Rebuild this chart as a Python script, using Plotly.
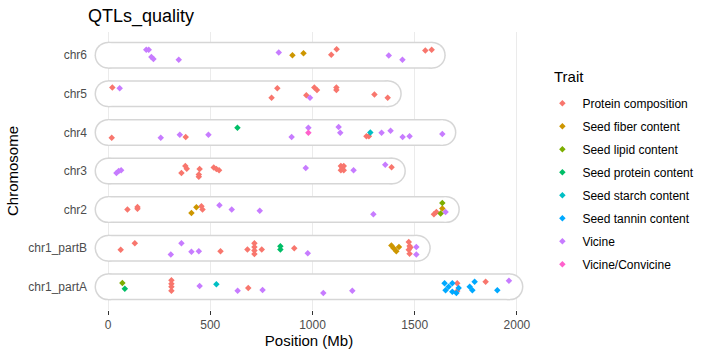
import plotly.graph_objects as go

# ---------------- data ----------------
chromosomes = ["chr1_partA", "chr1_partB", "chr2", "chr3", "chr4", "chr5", "chr6"]
chrom_lengths = [1966, 1513, 1655, 1391, 1638, 1371, 1586]

traits = ["Protein composition", "Seed fiber content", "Seed lipid content",
          "Seed protein content", "Seed starch content", "Seed tannin content",
          "Vicine", "Vicine/Convicine"]
trait_codes = ["P", "F", "L", "SP", "SS", "ST", "V", "VC"]
trait_colors = ["#F8766D", "#CD9600", "#7CAE00", "#00BE67",
                "#00BFC4", "#00A9FF", "#C77CFF", "#FF61CC"]

x_ticks = [0, 500, 1000, 1500, 2000]

# QTL points: chromosome, position (Mb), vertical jitter (rows), trait code
pt_chrom = (["chr6"] * 14 + ["chr5"] * 12 + ["chr4"] * 19 + ["chr3"] * 21 +
            ["chr2"] * 17 + ["chr1_partB"] * 28 + ["chr1_partA"] * 28)
pt_pos = [
    # chr6
    187, 199, 212, 222, 346, 835, 902, 956, 1092, 1118, 1373, 1440, 1552, 1583,
    # chr5
    21, 57, 828, 800, 1009, 1022, 970, 988, 1117, 1117, 1303, 1368,
    # chr4
    18, 258, 351, 380, 491, 633, 898, 980, 980, 1128, 1136, 1264, 1276, 1283,
    1338, 1382, 1441, 1475, 1635,
    # chr3
    41, 52, 64, 359, 378, 385, 448, 444, 444, 517, 530, 543, 967, 1139, 1153,
    1139, 1153, 1146, 1201, 1356, 1387,
    # chr2
    95, 144, 144, 408, 432, 457, 462, 545, 605, 742, 1298, 1594, 1606, 1627,
    1635, 1635, 1651,
    # chr1_partB
    62, 131, 307, 359, 408, 444, 550, 682, 716, 716, 716, 716, 752, 843, 843,
    911, 977, 1386, 1397, 1410, 1423, 1471, 1475, 1471, 1475, 1479, 1508, 1508,
    # chr1_partA
    70, 82, 310, 310, 310, 310, 448, 530, 634, 686, 756, 1053, 1195, 1646,
    1651, 1666, 1684, 1684, 1704, 1715, 1708, 1708, 1769, 1782, 1793, 1847,
    1904, 1961,
]
pt_jitter = [
    # chr6
    0.14, 0.14, -0.05, -0.10, -0.12, 0.07, 0.00, 0.05, 0.01, 0.15, -0.01, -0.12, 0.12, 0.14,
    # chr5
    0.16, 0.14, 0.14, -0.10, 0.16, 0.10, -0.04, -0.10, 0.16, 0.10, -0.02, -0.10,
    # chr4
    -0.14, -0.14, -0.06, -0.12, -0.06, 0.12, -0.12, 0.12, -0.01, 0.14, -0.01,
    -0.10, -0.10, 0.00, -0.01, 0.04, -0.12, -0.10, -0.04,
    # chr3
    -0.05, 0.00, 0.02, -0.05, 0.13, 0.06, 0.05, -0.09, -0.15, 0.09, 0.05, 0.02,
    0.08, 0.13, 0.13, 0.02, 0.02, 0.08, 0.02, 0.16, 0.10,
    # chr2
    0.00, 0.07, 0.02, -0.09, 0.06, 0.09, 0.00, 0.11, 0.00, -0.03, -0.12, -0.12,
    -0.06, -0.10, 0.03, 0.17, -0.06,
    # chr1_partB
    -0.04, 0.13, -0.16, 0.13, -0.09, -0.08, -0.08, -0.03, 0.13, 0.03, -0.06,
    -0.15, -0.03, 0.05, -0.03, 0.00, -0.13, 0.07, 0.00, -0.08, 0.03, 0.16,
    0.06, -0.04, -0.14, 0.02, 0.03, -0.16,
    # chr1_partA
    0.10, -0.05, 0.17, 0.08, 0.00, -0.10, 0.02, 0.07, -0.10, -0.03, -0.08,
    -0.16, -0.10, 0.09, -0.09, 0.00, 0.09, -0.13, -0.16, -0.03, 0.09, -0.11,
    0.00, -0.09, 0.13, 0.13, -0.09, 0.16,
]
pt_trait = [
    # chr6
    "V", "V", "V", "V", "V", "V", "F", "F", "P", "P", "V", "V", "P", "P",
    # chr5
    "P", "V", "P", "P", "P", "P", "P", "V", "P", "P", "P", "P",
    # chr4
    "P", "V", "V", "P", "V", "SP", "V", "V", "VC", "V", "V", "P", "P", "SS",
    "V", "V", "V", "V", "V",
    # chr3
    "V", "V", "V", "P", "P", "P", "P", "P", "P", "P", "P", "P", "V", "P", "P",
    "P", "P", "P", "V", "V", "P",
    # chr2
    "P", "P", "P", "F", "F", "P", "P", "V", "V", "V", "V", "P", "P", "L", "F",
    "L", "V",
    # chr1_partB
    "P", "P", "V", "V", "V", "V", "P", "P", "P", "P", "P", "P", "P", "SP", "SP",
    "P", "V", "F", "F", "F", "F", "P", "P", "P", "P", "P", "V", "V",
    # chr1_partA
    "L", "SP", "P", "P", "P", "P", "V", "SS", "V", "P", "V", "V", "V", "ST",
    "ST", "ST", "ST", "ST", "ST", "ST", "P", "P", "ST", "ST", "ST", "P", "ST", "V",
]

# ---------------- figure ----------------
FONT = "Liberation Sans, Arial, sans-serif"
fig = go.Figure()

# chromosome bars (rounded): grey outline then white fill
bx, by = [], []
for i, L in enumerate(chrom_lengths):
    bx += [0, L, None]
    by += [i, i, None]
fig.add_trace(go.Scatter(x=bx, y=by, mode="lines+markers",
                         line=dict(color="#D6D6D6", width=27),
                         marker=dict(symbol="circle", size=27, color="#D6D6D6"),
                         hoverinfo="skip", showlegend=False))
fig.add_trace(go.Scatter(x=bx, y=by, mode="lines+markers",
                         line=dict(color="white", width=24),
                         marker=dict(symbol="circle", size=24, color="white"),
                         hoverinfo="skip", showlegend=False))

row_of = {c: i for i, c in enumerate(chromosomes)}
for name, code, col in zip(traits, trait_codes, trait_colors):
    xs, ys = [], []
    for c, p, j, t in zip(pt_chrom, pt_pos, pt_jitter, pt_trait):
        if t == code:
            xs.append(p)
            ys.append(row_of[c] + j)
    fig.add_trace(go.Scatter(x=xs, y=ys, mode="markers", name=name,
                             legendgroup=name,
                             marker=dict(symbol="diamond", size=5, color=col)))

fig.update_layout(
    width=710, height=355,
    margin=dict(l=88, r=180, t=32, b=45, autoexpand=False),
    paper_bgcolor="white", plot_bgcolor="white",
    font=dict(family=FONT, size=12, color="#4D4D4D"),
    title=dict(text="QTLs_quality", font=dict(family=FONT, size=18, color="black"),
               x=0, xref="paper", xanchor="left",
               y=0.955, yref="container", yanchor="middle"),
    legend=dict(font=dict(size=12, color="black"),
                x=1.028, xanchor="left", y=0.796, yanchor="top",
                traceorder="grouped", tracegroupgap=4, itemclick=False),
    showlegend=True,
    annotations=[dict(text="Trait", xref="paper", yref="paper",
                      x=1.0498, y=0.84, xanchor="left", yanchor="middle",
                      showarrow=False, font=dict(size=15, color="black"))],
)
fig.update_xaxes(range=[-98, 2064], tickvals=x_ticks, automargin=False,
                 showgrid=True, gridcolor="#EBEBEB", gridwidth=1,
                 zeroline=False, showline=False,
                 ticks="outside", ticklen=4, tickcolor="#333333",
                 tickfont=dict(size=12, color="#4D4D4D"),
                 title=dict(text="Position (Mb)", font=dict(size=15, color="black"),
                            standoff=4))
fig.update_yaxes(range=[-0.6, 6.6], tickvals=list(range(len(chromosomes))),
                 ticktext=chromosomes, showgrid=False, zeroline=False,
                 showline=False, ticks="", automargin=False,
                 tickfont=dict(size=12, color="#4D4D4D"),
                 title=dict(text="Chromosome", font=dict(size=15, color="black"),
                            standoff=6))

# the page's default body margin would offset the figure by 8 px
fig.write_html("out.html", config={"displayModeBar": False},
               post_script="document.body.style.margin='0';")
